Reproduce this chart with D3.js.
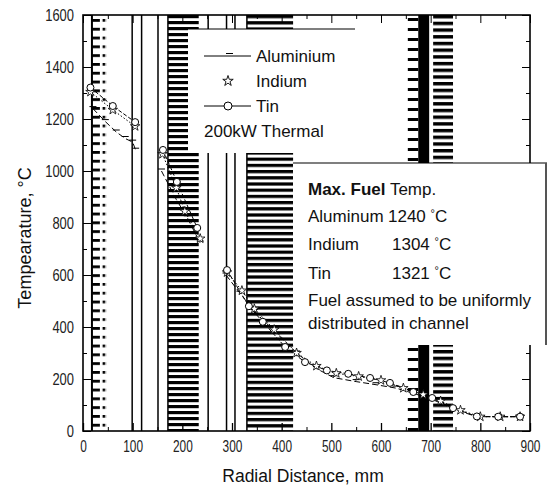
<!DOCTYPE html>
<html><head><meta charset="utf-8">
<script src="https://cdn.jsdelivr.net/npm/d3@7"></script>
<style>
html,body{margin:0;padding:0;background:#fff;}
svg{display:block;font-family:"Liberation Sans",Arial,Helvetica,sans-serif;}
</style></head><body>
<svg id="chart" width="549" height="488"></svg>
<script>
// ---------------- data ----------------
const xTicks = [0, 100, 200, 300, 400, 500, 600, 700, 800, 900];
const xMinorTicks = [50, 150, 250, 350, 450, 550, 650, 750, 850];
const yTicks = [0, 200, 400, 600, 800, 1000, 1200, 1400, 1600];
const yMinorTicks = [100, 300, 500, 700, 900, 1100, 1300, 1500];

// series (null = gap in curve)
const aluminiumX = [20, 45, 67, 85, 100, 106, null, 158, 188, 210, 236, null, 288, 316, 345, 385, 430, 470, 505, 550, 590, 630, 665, 703, 745, 793, 836, 880];
const aluminiumT = [1240, 1190, 1150, 1125, 1111, 1080, null, 1000, 890, 820, 723, null, 600, 530, 460, 385, 300, 240, 205, 190, 178, 165, 145, 122, 85, 55, 55, 55];
const indiumX = [15, 60, 105, null, 160, 188, 205, 236, null, 290, 320, 345, 385, 430, 470, 510, 555, 600, 645, 685, 720, 760, 800, 840, 880];
const indiumT = [1304, 1235, 1172, null, 1065, 935, 845, 740, null, 610, 540, 470, 390, 300, 250, 222, 210, 195, 165, 140, 115, 80, 55, 55, 55];
const tinX = [15, 60, 105, null, 161, 189, 230, null, 290, 334, 362, 407, 447, 491, 534, 578, 618, 665, 703, 745, 793, 836, 880];
const tinT = [1321, 1250, 1188, null, 1081, 958, 781, null, 619, 480, 420, 323, 265, 233, 220, 204, 185, 150, 127, 88, 56, 55, 55];

// core layout regions (radial mm)
const stripedRegions = [[171, 233], [330, 423], [705, 745]];
const combRegions = [[18, 34, 42], [654, 675]];
const solidRegions = [[675, 697]];
const regionLines = [99, 118, 151, 252, 289, 306];

const legendLabels = ['Aluminium', 'Indium', 'Tin'];
const legendNote = '200kW Thermal';
const maxTempTitleBold = 'Max. Fuel';
const maxTempTitleRest = ' Temp.';
const maxTempNames = ['Aluminum', 'Indium', 'Tin'];
const maxTempValues = [1240, 1304, 1321];
const noteLines = ['Fuel assumed to be uniformly', 'distributed in channel'];
const xTitle = 'Radial Distance, mm';
const yTitle = 'Tempearature, °C';

// ---------------- chart ----------------
const W = 549, H = 488;
const L = 83, R = 530, T = 15, B = 431;
const x = d3.scaleLinear().domain([0, 900]).range([L, R]);
const y = d3.scaleLinear().domain([0, 1600]).range([B, T]);

const svg = d3.select('#chart');
svg.append('rect').attr('width', W).attr('height', H).attr('fill', '#fff');
const defs = svg.append('defs');
defs.append('clipPath').attr('id', 'plotClip').append('rect')
  .attr('x', L).attr('y', T).attr('width', R - L).attr('height', B - T);

function stripePattern(id, x0, period, thick) {
  const p = defs.append('pattern').attr('id', id).attr('patternUnits', 'userSpaceOnUse')
    .attr('x', x0).attr('y', T).attr('width', 300).attr('height', period);
  p.append('rect').attr('width', 300).attr('height', thick).attr('fill', '#000');
}

const bands = svg.append('g').attr('clip-path', 'url(#plotClip)');
const stripeSpec = [[6.0, 3.2], [6.2, 3.2], [6.7, 3.4]];
stripedRegions.forEach(([a, b], i) => {
  stripePattern('stripe' + i, x(a), stripeSpec[i][0], stripeSpec[i][1]);
  bands.append('rect').attr('x', x(a)).attr('y', T).attr('width', x(b) - x(a)).attr('height', B - T)
    .attr('fill', `url(#stripe${i})`);
  if (i < 2) bands.append('line').attr('x1', x(a)).attr('x2', x(a)).attr('y1', T).attr('y2', B)
    .attr('stroke', '#000').attr('stroke-width', 1.5);
});

// comb A: spine, bars and dots
{
  const [a, b, c] = combRegions[0];
  const w = x(c) - x(a) + 3;
  const p = defs.append('pattern').attr('id', 'combA').attr('patternUnits', 'userSpaceOnUse')
    .attr('x', x(a)).attr('y', T + 4).attr('width', w).attr('height', 8.8);
  p.append('rect').attr('x', 0).attr('y', 0).attr('width', x(b) - x(a)).attr('height', 2.8).attr('fill', '#000');
  p.append('rect').attr('x', x(c) - x(a) - 1.3).attr('y', 0).attr('width', 2.7).attr('height', 2.7).attr('fill', '#000');
  bands.append('rect').attr('x', x(a)).attr('y', T).attr('width', w).attr('height', B - T).attr('fill', 'url(#combA)');
  bands.append('line').attr('x1', x(a)).attr('x2', x(a)).attr('y1', T).attr('y2', B)
    .attr('stroke', '#000').attr('stroke-width', 2);
}
// comb D: bars attached to solid band
{
  const [a, b] = combRegions[1];
  const p = defs.append('pattern').attr('id', 'combD').attr('patternUnits', 'userSpaceOnUse')
    .attr('x', x(a)).attr('y', T + 3).attr('width', 100).attr('height', 10);
  p.append('rect').attr('width', 100).attr('height', 3).attr('fill', '#000');
  bands.append('rect').attr('x', x(a)).attr('y', T).attr('width', x(b) - x(a)).attr('height', B - T).attr('fill', 'url(#combD)');
}
solidRegions.forEach(([a, b]) => {
  bands.append('rect').attr('x', x(a)).attr('y', T).attr('width', x(b) - x(a)).attr('height', B - T).attr('fill', '#000');
});
regionLines.forEach(v => {
  bands.append('line').attr('x1', x(v)).attr('x2', x(v)).attr('y1', T).attr('y2', B)
    .attr('stroke', '#000').attr('stroke-width', 1.5);
});

// ---------------- axes ----------------
function styleLabels(g, per) {
  g.selectAll('text').attr('font-size', 17).attr('fill', '#222')
    .attr('textLength', d => String(d).length * per).attr('lengthAdjust', 'spacingAndGlyphs');
}
const ax = svg.append('g');
ax.append('g').attr('transform', `translate(0,${B})`)
  .call(d3.axisBottom(x).tickValues(xTicks).tickSize(-8).tickPadding(9).tickFormat(d3.format('d')))
  .call(g => { g.select('.domain').remove(); styleLabels(g, 6.6); g.selectAll('line').attr('stroke-width', 1.3); });
ax.append('g').attr('transform', `translate(0,${B})`)
  .call(d3.axisBottom(x).tickValues(xMinorTicks).tickSize(-4).tickFormat(''))
  .call(g => g.select('.domain').remove());
ax.append('g').attr('transform', `translate(0,${T})`)
  .call(d3.axisTop(x).tickValues(xTicks).tickSize(-8).tickFormat(''))
  .call(g => g.select('.domain').remove());
ax.append('g').attr('transform', `translate(0,${T})`)
  .call(d3.axisTop(x).tickValues(xMinorTicks).tickSize(-4).tickFormat(''))
  .call(g => g.select('.domain').remove());
ax.append('g').attr('transform', `translate(${L},0)`)
  .call(d3.axisLeft(y).tickValues(yTicks).tickSize(-8).tickPadding(9).tickFormat(d3.format('d')))
  .call(g => { g.select('.domain').remove(); styleLabels(g, 7.2); });
ax.append('g').attr('transform', `translate(${L},0)`)
  .call(d3.axisLeft(y).tickValues(yMinorTicks).tickSize(-4).tickFormat(''))
  .call(g => g.select('.domain').remove());
ax.append('g').attr('transform', `translate(${R},0)`)
  .call(d3.axisRight(y).tickValues(yTicks).tickSize(-8).tickFormat(''))
  .call(g => g.select('.domain').remove());
ax.append('g').attr('transform', `translate(${R},0)`)
  .call(d3.axisRight(y).tickValues(yMinorTicks).tickSize(-4).tickFormat(''))
  .call(g => g.select('.domain').remove());
ax.selectAll('.tick line').attr('stroke', '#000');
ax.append('rect').attr('x', L).attr('y', T).attr('width', R - L).attr('height', B - T)
  .attr('fill', 'none').attr('stroke', '#000').attr('stroke-width', 1.6);

// ---------------- curves ----------------
const zip = (xs, ts) => xs.map((v, i) => ({ x: v, t: ts[i] }));
const line = d3.line().defined(d => d.t != null).x(d => x(d.x)).y(d => y(d.t));
const curves = svg.append('g').attr('clip-path', 'url(#plotClip)');
const alu = zip(aluminiumX, aluminiumT), ind = zip(indiumX, indiumT), tin = zip(tinX, tinT);
curves.append('path').datum(alu).attr('d', line).attr('fill', 'none').attr('stroke', '#000')
  .attr('stroke-width', 1).attr('stroke-dasharray', '6,3');
curves.append('path').datum(ind).attr('d', line).attr('fill', 'none').attr('stroke', '#000')
  .attr('stroke-width', 1).attr('stroke-dasharray', '1.5,2');
curves.append('path').datum(tin).attr('d', line).attr('fill', 'none').attr('stroke', '#000')
  .attr('stroke-width', 1).attr('stroke-dasharray', '4,2');
curves.selectAll('.alu').data(alu.filter(d => d.t != null)).join('line').attr('class', 'alu')
  .attr('x1', d => x(d.x) - 3.5).attr('x2', d => x(d.x) + 3.5)
  .attr('y1', d => y(d.t) - 2).attr('y2', d => y(d.t) - 2).attr('stroke', '#000').attr('stroke-width', 1);
const star = d3.symbol().type(d3.symbolStar).size(28);
curves.selectAll('.ind').data(ind.filter(d => d.t != null)).join('path').attr('class', 'ind')
  .attr('d', star).attr('transform', d => `translate(${x(d.x)},${y(d.t)})`)
  .attr('fill', '#fff').attr('stroke', '#000').attr('stroke-width', 0.8);
curves.selectAll('.tin').data(tin.filter(d => d.t != null)).join('circle').attr('class', 'tin')
  .attr('cx', d => x(d.x)).attr('cy', d => y(d.t)).attr('r', 3.5)
  .attr('fill', '#fff').attr('stroke', '#000').attr('stroke-width', 1);

// ---------------- legend box ----------------
const lg = svg.append('g');
lg.append('rect').attr('x', 188).attr('y', 29).attr('width', 167).attr('height', 124).attr('fill', '#fff');
lg.append('line').attr('x1', 188).attr('x2', 355).attr('y1', 29).attr('y2', 29).attr('stroke', '#000').attr('stroke-width', 1.2);
const rowY = i => 62 + i * 25;
legendLabels.forEach((lab, i) => {
  lg.append('text').attr('x', 256).attr('y', rowY(i)).attr('font-size', 17).attr('fill', '#111').text(lab);
});
// Aluminium sample
lg.append('line').attr('x1', 204).attr('x2', 251).attr('y1', rowY(0) - 6).attr('y2', rowY(0) - 6).attr('stroke', '#000');
lg.append('line').attr('x1', 226).attr('x2', 233).attr('y1', rowY(0) - 8.5).attr('y2', rowY(0) - 8.5).attr('stroke', '#000');
// Indium sample
lg.append('path').attr('d', d3.symbol().type(d3.symbolStar).size(34)).attr('transform', `translate(228,${rowY(1) - 6})`)
  .attr('fill', '#fff').attr('stroke', '#000').attr('stroke-width', 0.9);
// Tin sample
lg.append('line').attr('x1', 204).attr('x2', 251).attr('y1', rowY(2) - 6).attr('y2', rowY(2) - 6).attr('stroke', '#000');
lg.append('circle').attr('cx', 228).attr('cy', rowY(2) - 6).attr('r', 4).attr('fill', '#fff').attr('stroke', '#000');
lg.append('text').attr('x', 204).attr('y', rowY(3)).attr('font-size', 17).attr('fill', '#111').text(legendNote);

// ---------------- annotation box ----------------
const an = svg.append('g');
an.append('rect').attr('x', 293).attr('y', 163).attr('width', 253).attr('height', 182).attr('fill', '#fff');
an.append('line').attr('x1', 293).attr('x2', 547).attr('y1', 163).attr('y2', 163).attr('stroke', '#000').attr('stroke-width', 1.2);
an.append('line').attr('x1', 546).attr('x2', 546).attr('y1', 163).attr('y2', 345).attr('stroke', '#555').attr('stroke-width', 2);
const t0 = an.append('text').attr('x', 308).attr('y', 195).attr('font-size', 17).attr('fill', '#111');
t0.append('tspan').attr('font-weight', 'bold').text(maxTempTitleBold);
t0.append('tspan').text(maxTempTitleRest);
const valY = [222, 250, 279];
maxTempNames.forEach((n, i) => {
  an.append('text').attr('x', 308).attr('y', valY[i]).attr('font-size', 17).attr('fill', '#111').text(n);
  const tv = an.append('text').attr('x', i === 0 ? 388 : 392).attr('y', valY[i]).attr('font-size', 17).attr('fill', '#111');
  tv.append('tspan').text(maxTempValues[i] + ' ');
  tv.append('tspan').attr('font-size', 11).attr('dy', -5).text('°');
  tv.append('tspan').attr('dy', 5).text('C');
});
noteLines.forEach((s, i) => {
  an.append('text').attr('x', 308).attr('y', 306 + i * 23).attr('font-size', 17).attr('fill', '#111').text(s);
});

// ---------------- titles ----------------
svg.append('text').attr('x', 303).attr('y', 482).attr('text-anchor', 'middle').attr('font-size', 17.5)
  .attr('fill', '#111').text(xTitle);
svg.append('text').attr('transform', 'translate(31,238) rotate(-90)').attr('text-anchor', 'middle')
  .attr('font-size', 18).attr('fill', '#111').text(yTitle);
</script>
</body></html>
